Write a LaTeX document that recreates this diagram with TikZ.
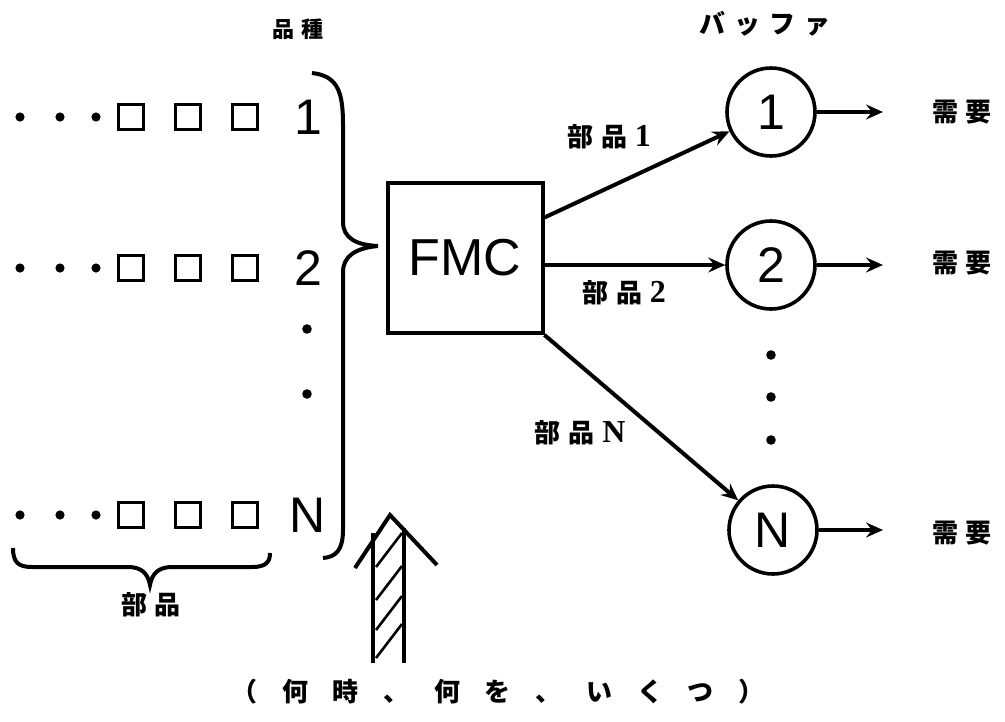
\documentclass[tikz,border=0pt]{standalone}
\usepackage{fontspec}
\setmainfont{Liberation Serif}
\setsansfont{Liberation Sans}
\newfontfamily\jpfont{Noto Sans CJK JP}
\usetikzlibrary{arrows.meta, positioning, calc}
\newcommand{\jgap}{\hspace{0.3em}}
\newcommand{\bgap}{\hspace{0.95em}}
\newcommand{\partrow}[3]{%
  \foreach \dx in {20,60,96}
    \fill (\dx,#2) circle (4.6pt);
  \foreach \dx in {131,188,245}
    \draw[line width=3.6pt] (\dx-12.5,#2-12.5) rectangle (\dx+12.5,#2+12.5);
  \node[numtext] (#1) at (308,#2) {#3};}

\begin{document}
\begin{tikzpicture}[x=1pt, y=-1pt, line width=4pt,
    numtext/.style={inner sep=0pt, font=\sffamily\fontsize{50}{50}\selectfont},
    jptext/.style={inner sep=0pt, font=\jpfont\bfseries\fontsize{26}{26}\selectfont},
    bufnode/.style={draw, circle, minimum size=88pt, inner sep=0pt, line width=3.6pt,
      font=\sffamily\fontsize{50}{50}\selectfont},
    flow/.style={-{Stealth[length=17pt, width=15pt, inset=6pt]}}]
  \useasboundingbox (0,0) rectangle (1005,721);

  % headings
  \node[jptext, font=\jpfont\bfseries\fontsize{22}{22}\selectfont] (kind) at (298,29) {品\jgap 種};
  \node[jptext] (buffer) at (765,24) {バ\hspace{0.35em}ッ\hspace{0.35em}フ\hspace{0.35em}ァ};

  % parts waiting, one row per kind
  \partrow{k1}{117}{1}
  \partrow{k2}{268}{2}
  \partrow{kN}{515}{N}
  \foreach \y in {329,394}
    \fill (307,\y) circle (4.8pt);

  % brace over the kinds
  \draw (312,73) .. controls (338,76) and (343,92) .. (343,125) -- (343,222)
    .. controls (343,238) and (356,245) .. (378,246)
    .. controls (356,248) and (343,256) .. (343,272) -- (343,530)
    .. controls (343,550) and (336,557) .. (323,558);

  % brace under the parts
  \draw (13,548) .. controls (13,562) and (18,567) .. (32,567) -- (128,567)
    .. controls (142,567) and (148,574) .. (150,585)
    .. controls (152,574) and (158,567) .. (172,567) -- (252,567)
    .. controls (266,567) and (270,562) .. (270,553);
  \node[jptext] (parts) at (151,605) {部\jgap 品};

  % cell and buffers
  \node[draw, minimum width=155pt, minimum height=150pt, inner sep=0pt,
        font=\sffamily\fontsize{52}{52}\selectfont] (fmc) at (465,258) {FMC};
  \node[bufnode] (b1) at (771,112) {1};
  \node[bufnode] (b2) at (771,265) {2};
  \node[bufnode] (bN) at (773,530) {N};
  \foreach \y in {355,397,440}
    \fill (771,\y) circle (4.8pt);

  \draw[flow] (fmc.27) -- (b1);
  \draw[flow] (fmc.east |- b2) -- (b2);
  \draw[flow] (fmc.south east) -- (bN);
  \node[jptext] (p1) at (609,137) {部\jgap 品\jgap{\rmfamily\fontsize{32}{32}\selectfont 1}};
  \node[jptext] (p2) at (624,293) {部\jgap 品\jgap{\rmfamily\fontsize{32}{32}\selectfont 2}};
  \node[jptext] (pN) at (580,433) {部\jgap 品\jgap{\rmfamily\fontsize{32}{32}\selectfont N}};

  % demand
  \coordinate (o1) at (883,112);
  \coordinate (o2) at (883,265);
  \coordinate (oN) at (883,530);
  \draw[flow] (b1) -- (o1);
  \draw[flow] (b2) -- (o2);
  \draw[flow] (bN) -- (oN);
  \node[jptext] (d1) at (962,112) {需\jgap 要};
  \node[jptext] (d2) at (962,263) {需\jgap 要};
  \node[jptext] (dN) at (962,533) {需\jgap 要};

  % hatched arrow of orders
  \draw (373,533) -- (373,663);
  \draw (404,528) -- (404,663);
  \draw[line join=miter] (355,568) -- (390,515) -- (437,565);
  \foreach \y in {567,600,630,658}
    \draw[line width=2.6pt] (376,\y) -- (402,\y-34);
  \node[jptext] (when) at (498,692) {（\bgap 何\bgap 時\bgap 、\bgap 何\bgap を\bgap 、\bgap い\bgap く\bgap つ\bgap ）};
\end{tikzpicture}
\end{document}
